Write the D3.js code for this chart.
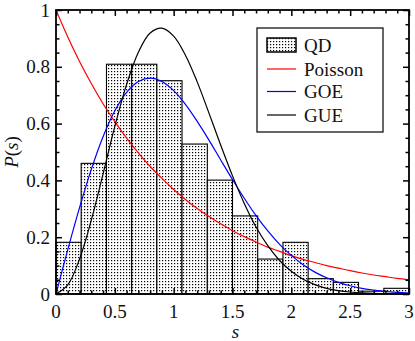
<!DOCTYPE html>
<html>
<head>
<meta charset="utf-8">
<script src="https://cdn.jsdelivr.net/npm/d3@7"></script>
<style>
  body { margin: 0; background: #fff; }
</style>
</head>
<body>
<div id="chart"></div>
<script>
// Histogram of nearest-neighbour spacings (QD)
const qdEdges = [0, 0.214, 0.429, 0.643, 0.857, 1.071, 1.286, 1.5, 1.714, 1.929, 2.143, 2.357, 2.571, 2.786, 3.0];
const qdValues = [0.182, 0.46, 0.809, 0.809, 0.751, 0.528, 0.401, 0.275, 0.123, 0.182, 0.054, 0.041, 0.01, 0.02];

// Reference curves
const sGrid = [0, 0.1, 0.2, 0.3, 0.4, 0.5, 0.6, 0.7, 0.8, 0.9, 1.0, 1.1, 1.2, 1.3, 1.4, 1.5,
  1.6, 1.7, 1.8, 1.9, 2.0, 2.1, 2.2, 2.3, 2.4, 2.5, 2.6, 2.7, 2.8, 2.9, 3.0];
const poissonValues = [1, 0.905, 0.819, 0.741, 0.670, 0.607, 0.549, 0.497, 0.449, 0.407, 0.368,
  0.333, 0.301, 0.273, 0.247, 0.223, 0.202, 0.183, 0.165, 0.150, 0.135, 0.122, 0.111, 0.100,
  0.091, 0.082, 0.074, 0.067, 0.061, 0.055, 0.050];
const goeValues = [0, 0.156, 0.304, 0.439, 0.554, 0.645, 0.710, 0.748, 0.760, 0.748, 0.716,
  0.668, 0.608, 0.542, 0.472, 0.403, 0.337, 0.276, 0.222, 0.175, 0.136, 0.103, 0.077, 0.057,
  0.041, 0.029, 0.020, 0.014, 0.009, 0.006, 0.004];
const gueValues = [0, 0.032, 0.123, 0.260, 0.423, 0.590, 0.738, 0.851, 0.919, 0.936, 0.908,
  0.841, 0.747, 0.637, 0.524, 0.416, 0.319, 0.236, 0.170, 0.118, 0.080, 0.052, 0.033, 0.020,
  0.012, 0.007, 0.004, 0.002, 0.001, 0.0006, 0.0003];

const xMajor = [0, 0.5, 1, 1.5, 2, 2.5, 3];
const xMinor = [0.1, 0.2, 0.3, 0.4, 0.6, 0.7, 0.8, 0.9, 1.1, 1.2, 1.3, 1.4, 1.6, 1.7, 1.8, 1.9,
  2.1, 2.2, 2.3, 2.4, 2.6, 2.7, 2.8, 2.9];
const yMajor = [0, 0.2, 0.4, 0.6, 0.8, 1];
const yMinor = [0.05, 0.1, 0.15, 0.25, 0.3, 0.35, 0.45, 0.5, 0.55, 0.65, 0.7, 0.75, 0.85, 0.9, 0.95];

const series = [
  { name: "Poisson", values: poissonValues, color: "#ff0000" },
  { name: "GOE", values: goeValues, color: "#0000ff" },
  { name: "GUE", values: gueValues, color: "#000000" }
];

const FONT = "'Liberation Serif', 'Times New Roman', Tinos, 'DejaVu Serif', 'Noto Serif', serif";

const W = 415, H = 341;
const margin = { top: 10, right: 6, bottom: 47, left: 56 };
const width = W - margin.left - margin.right;
const height = H - margin.top - margin.bottom;

const svgRoot = d3.select("#chart").append("svg")
  .attr("width", W)
  .attr("height", H)
  .attr("font-family", FONT)
  .style("font-family", FONT);

// dotted fill used by the histogram
const defs = svgRoot.append("defs");
const pat = defs.append("pattern")
  .attr("id", "dots")
  .attr("patternUnits", "userSpaceOnUse")
  .attr("width", 3)
  .attr("height", 3);
pat.append("rect").attr("width", 3).attr("height", 3).attr("fill", "#fff");
pat.append("rect").attr("x", 1).attr("y", 1).attr("width", 1.2).attr("height", 1.2).attr("fill", "#000");

defs.append("clipPath").attr("id", "plotClip")
  .append("rect").attr("width", width).attr("height", height);

const svg = svgRoot.append("g")
  .attr("transform", "translate(" + margin.left + "," + margin.top + ")");

const x = d3.scaleLinear().domain([0, 3]).range([0, width]);
const y = d3.scaleLinear().domain([0, 1]).range([height, 0]);

// histogram bars
svg.append("g")
  .selectAll("rect")
  .data(qdValues)
  .enter().append("rect")
  .attr("x", (d, i) => x(qdEdges[i]))
  .attr("width", (d, i) => x(qdEdges[i + 1]) - x(qdEdges[i]))
  .attr("y", d => y(d))
  .attr("height", d => y(0) - y(d))
  .attr("fill", "url(#dots)")
  .attr("stroke", "#000")
  .attr("stroke-width", 1.1);

// theory curves
const line = d3.line()
  .x((d, i) => x(sGrid[i]))
  .y(d => y(d))
  .curve(d3.curveCatmullRom);

svg.append("g")
  .attr("clip-path", "url(#plotClip)")
  .selectAll("path")
  .data(series)
  .enter().append("path")
  .attr("d", d => line(d.values))
  .attr("fill", "none")
  .attr("stroke", d => d.color)
  .attr("stroke-width", 1.2);

// ticks pointing inward on all four sides
function tickAxis(axis, tr) {
  const g = svg.append("g").attr("transform", tr).call(axis);
  g.select(".domain").remove();
  g.selectAll(".tick line").attr("stroke", "#000").attr("stroke-width", 1.5);
  return g;
}
tickAxis(d3.axisBottom(x).tickValues(xMajor).tickSize(-6).tickFormat(""), "translate(0," + height + ")");
tickAxis(d3.axisBottom(x).tickValues(xMinor).tickSize(-3.5).tickFormat(""), "translate(0," + height + ")");
tickAxis(d3.axisTop(x).tickValues(xMajor).tickSize(-6).tickFormat(""), "translate(0,0)");
tickAxis(d3.axisTop(x).tickValues(xMinor).tickSize(-3.5).tickFormat(""), "translate(0,0)");
tickAxis(d3.axisLeft(y).tickValues(yMajor).tickSize(-6).tickFormat(""), "translate(0,0)");
tickAxis(d3.axisLeft(y).tickValues(yMinor).tickSize(-3.5).tickFormat(""), "translate(0,0)");
tickAxis(d3.axisRight(y).tickValues(yMajor).tickSize(-6).tickFormat(""), "translate(" + width + ",0)");
tickAxis(d3.axisRight(y).tickValues(yMinor).tickSize(-3.5).tickFormat(""), "translate(" + width + ",0)");

// frame
svg.append("rect")
  .attr("width", width)
  .attr("height", height)
  .attr("fill", "none")
  .attr("stroke", "#000")
  .attr("stroke-width", 1.8);

// tick labels
svg.append("g").selectAll("text")
  .data(xMajor)
  .enter().append("text")
  .attr("x", d => x(d))
  .attr("y", height + 24)
  .attr("text-anchor", "middle")
  .attr("fill", "#111")
  .style("font-family", FONT)
  .style("font-size", "19px")
  .text(d => d3.format("~g")(d));

svg.append("g").selectAll("text")
  .data(yMajor)
  .enter().append("text")
  .attr("x", -6)
  .attr("y", d => y(d))
  .attr("dy", "0.35em")
  .attr("text-anchor", "end")
  .attr("fill", "#111")
  .style("font-family", FONT)
  .style("font-size", "19px")
  .text(d => d3.format("~g")(d));

// axis titles
svg.append("text")
  .attr("x", width / 2 + 3)
  .attr("y", height + 44)
  .attr("text-anchor", "middle")
  .attr("fill", "#111")
  .style("font-family", FONT)
  .style("font-size", "19px")
  .style("font-style", "italic")
  .text("s");

const yLab = svg.append("text")
  .attr("transform", "translate(" + (-38) + "," + (height / 2) + ") rotate(-90)")
  .attr("text-anchor", "middle")
  .attr("fill", "#111")
  .style("font-family", FONT)
  .style("font-size", "19px");
yLab.append("tspan").style("font-style", "italic").text("P");
yLab.append("tspan").text("(");
yLab.append("tspan").style("font-style", "italic").text("s");
yLab.append("tspan").text(")");

// legend
const leg = svg.append("g").attr("transform", "translate(" + (257 - margin.left) + "," + (28 - margin.top) + ")");
leg.append("rect")
  .attr("width", 126)
  .attr("height", 104)
  .attr("fill", "#fff")
  .attr("stroke", "#000")
  .attr("stroke-width", 1.2);

const rowY = [17, 41, 63.5, 87];
leg.append("rect")
  .attr("x", 10).attr("y", rowY[0] - 7)
  .attr("width", 29).attr("height", 14)
  .attr("fill", "url(#dots)")
  .attr("stroke", "#000")
  .attr("stroke-width", 1.5);

series.forEach((s, i) => {
  leg.append("line")
    .attr("x1", 10).attr("x2", 39)
    .attr("y1", rowY[i + 1]).attr("y2", rowY[i + 1])
    .attr("stroke", s.color)
    .attr("stroke-width", 1.2);
});

const legNames = ["QD"].concat(series.map(s => s.name));
leg.selectAll(".leg-text")
  .data(legNames)
  .enter().append("text")
  .attr("class", "leg-text")
  .attr("x", 47)
  .attr("y", (d, i) => rowY[i])
  .attr("dy", "0.35em")
  .attr("fill", "#111")
  .style("font-family", FONT)
  .style("font-size", "19px")
  .text(d => d);
</script>
</body>
</html>
